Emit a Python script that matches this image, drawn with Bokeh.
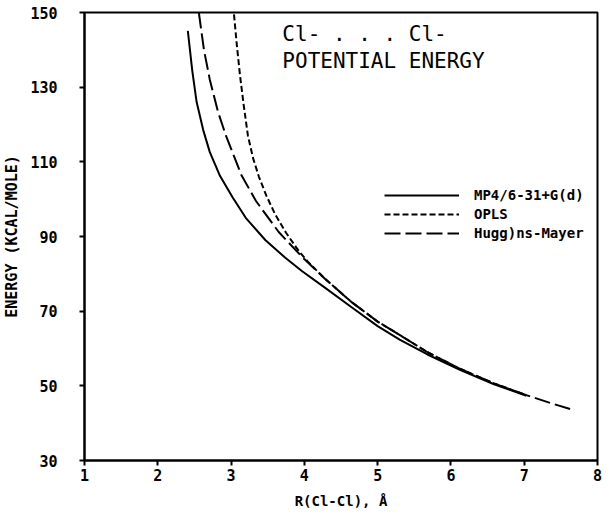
from bokeh.plotting import figure
from bokeh.models import Label, Legend, LegendItem, FixedTicker
from bokeh.embed import file_html
from bokeh.resources import INLINE

# R(Cl-Cl) in Å, energy in kcal/mol
r_mp4 = [2.41, 2.47, 2.53, 2.62, 2.71, 2.85, 3.02, 3.20, 3.47, 3.74, 3.97, 4.28,
         4.64, 5.00, 5.30, 5.68, 6.13, 6.58, 7.03]
e_mp4 = [145.1, 134.5, 126.0, 118.5, 112.6, 106.2, 100.5, 95.0, 89.0, 84.3, 80.7, 76.3,
         71.1, 66.0, 62.4, 58.4, 54.2, 50.5, 47.3]

r_opls = [3.04, 3.08, 3.12, 3.17, 3.23, 3.30, 3.38, 3.48, 3.60, 3.75, 3.92, 4.05,
          4.28, 4.64, 5.00, 5.27, 5.68, 6.13, 6.58, 7.03]
e_opls = [149.5, 141.0, 133.5, 125.5, 117.0, 111.0, 106.0, 101.0, 96.0, 91.0, 86.2, 83.2,
          78.7, 72.5, 67.2, 64.0, 59.0, 54.5, 50.7, 47.5]

r_hm = [2.56, 2.63, 2.71, 2.82, 2.93, 3.14, 3.34, 3.65, 3.97, 4.28, 4.64, 5.00,
        5.27, 5.68, 6.13, 6.58, 7.03, 7.39, 7.64]
e_hm = [150.0, 140.0, 132.0, 123.5, 117.0, 106.5, 99.5, 91.2, 84.5, 78.7, 72.5, 67.2,
        64.0, 59.0, 54.5, 50.7, 47.5, 45.2, 43.7]

x_ticks = [1, 2, 3, 4, 5, 6, 7, 8]
y_ticks = [30, 50, 70, 90, 110, 130, 150]

series_names = ["MP4/6-31+G(d)", "OPLS", "Hugg)ns-Mayer"]

MONO = "DejaVu Sans Mono"

p = figure(width=602, height=511, x_range=(1, 8), y_range=(30, 150),
           output_backend="svg", toolbar_location=None,
           min_border_left=79, min_border_right=5, min_border_top=12, min_border_bottom=50)

p.xgrid.visible = False
p.ygrid.visible = False
p.outline_line_color = "black"
p.outline_line_width = 2
p.background_fill_color = "white"
p.border_fill_color = "white"

for ax in (p.xaxis[0], p.yaxis[0]):
    ax.axis_line_width = 2
    ax.axis_line_color = "black"
    ax.major_tick_line_width = 2
    ax.major_tick_line_color = "black"
    ax.major_tick_out = 5
    ax.major_tick_in = 0
    ax.minor_tick_out = 0
    ax.minor_tick_in = 0
    ax.major_label_text_font = MONO
    ax.major_label_text_font_style = "bold"
    ax.major_label_text_font_size = "15px"
    ax.major_label_text_color = "black"
    ax.axis_label_text_font = MONO
    ax.axis_label_text_font_style = "bold"
    ax.axis_label_text_color = "black"

p.xaxis.ticker = FixedTicker(ticks=x_ticks)
p.yaxis.ticker = FixedTicker(ticks=y_ticks)
p.xaxis.major_label_standoff = 3
p.yaxis.major_label_standoff = 22
p.xaxis.axis_label = "R(Cl-Cl), Å"
p.yaxis.axis_label = "ENERGY (KCAL/MOLE)"
p.xaxis.axis_label_text_font_size = "14px"
p.yaxis.axis_label_text_font_size = "15px"
p.xaxis.axis_label_standoff = 9
p.yaxis.axis_label_standoff = 6

l1 = p.line(r_mp4, e_mp4, line_color="black", line_width=2)
l2 = p.line(r_opls, e_opls, line_color="black", line_width=2, line_dash="6 3")
l3 = p.line(r_hm, e_hm, line_color="black", line_width=2, line_dash="16 5")

legend = Legend(items=[LegendItem(label=series_names[0], renderers=[l1]),
                       LegendItem(label=series_names[1], renderers=[l2]),
                       LegendItem(label=series_names[2], renderers=[l3])],
                location=(300, 218))
legend.padding = 0
legend.margin = 0
legend.spacing = 1
legend.glyph_width = 75
legend.glyph_height = 18
legend.label_height = 18
legend.label_standoff = 15
legend.label_text_font = MONO
legend.label_text_font_style = "bold"
legend.label_text_font_size = "14px"
legend.label_text_color = "black"
legend.border_line_alpha = 0
legend.background_fill_alpha = 0
p.add_layout(legend, "center")

p.add_layout(Label(x=3.70, y=144.2, text="Cl-  .  .  .  Cl-", text_font=MONO,
                   text_font_size="21px", text_color="black", text_baseline="alphabetic"))
p.add_layout(Label(x=3.70, y=137.1, text="POTENTIAL ENERGY", text_font=MONO,
                   text_font_size="21px", text_color="black", text_baseline="alphabetic"))

open("out.html", "w").write(file_html(p, INLINE))
